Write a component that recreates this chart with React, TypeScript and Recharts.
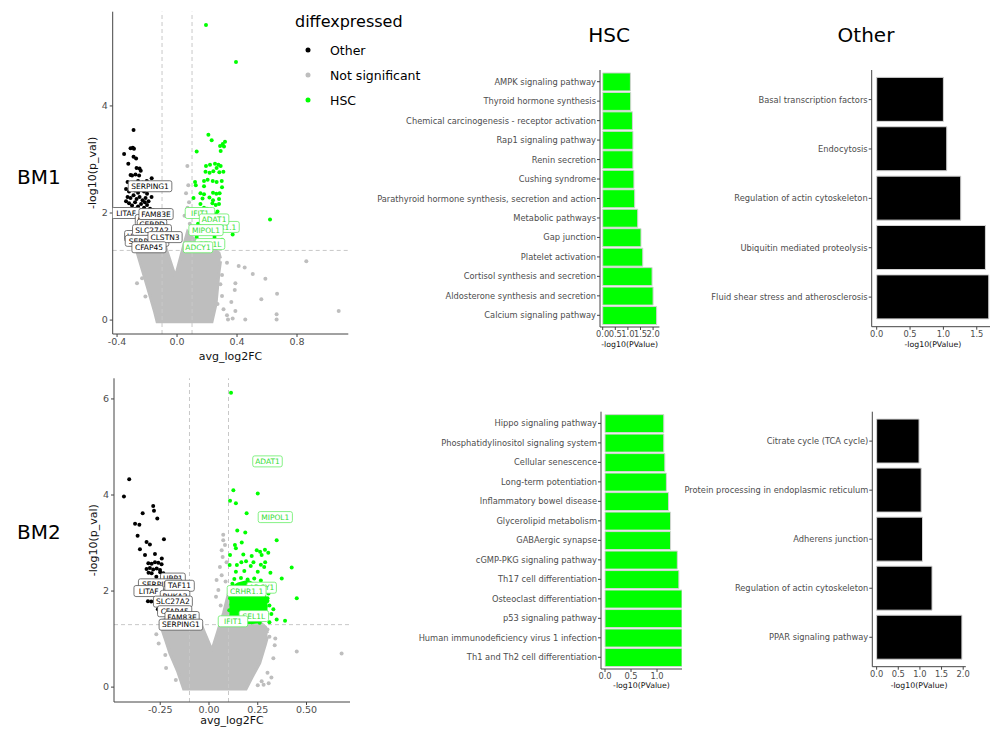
import React from "react";
import {
  ComposedChart, Scatter, Area, XAxis, YAxis, ReferenceLine, BarChart, Bar,
} from "recharts";

const FONT = "DejaVu Sans, Verdana, sans-serif";
const GREEN = "#00ff00";
const GREY = "#bebebe";
const TICK = "#4d4d4d";
const AXIS = "#444444";

type Pt = [number, number];
type Lab = [string, number, number];

// ---- BM1 volcano ----
const bm1CloudX = [-0.275, -0.25, -0.2, -0.15, -0.133, -0.08, -0.011, 0.045, 0.07, 0.1, 0.15, 0.2, 0.233, 0.26, 0.28, 0.29];
const bm1CloudLo = [1.35, 1.11, 0.64, 0.16, -0.03, -0.03, -0.03, -0.03, -0.03, -0.03, -0.03, -0.03, -0.03, 0.3, 0.9, 1.1];
const bm1CloudHi = [1.42, 1.45, 1.45, 1.45, 1.45, 1.4, 0.81, 1.4, 1.65, 1.55, 1.4, 1.38, 1.35, 1.3, 1.25, 1.15];

const bm1Grey: Pt[] = [
  [0.333, 1.07], [0.411, 1.01], [0.451, 0.98], [0.505, 0.86], [0.589, 0.77], [0.862, 1.1], [0.667, 0.49],
  [0.562, 0.39], [0.389, 0.69], [0.385, 0.56], [0.3, 0.84], [0.289, 0.67], [0.362, 0.34], [0.389, 0.17],
  [0.333, 0.09], [0.371, 0.03], [0.34, 0.01], [0.455, 0.01], [0.664, 0.11], [0.664, 0.01], [1.078, 0.17],
  [-0.267, 0.69], [-0.211, 0.44], [-0.233, 0.78], [0.069, 2.88], [0.075, 2.52], [0.06, 2.37], [0.08, 2.2],
  [0.07, 2.1], [0.05, 1.95], [0.085, 1.8], [0.27, 0.3], [0.3, 0.45], [0.31, 0.2],
];

const bm1Other: Pt[] = [
  [-0.29, 3.55], [-0.31, 3.21], [-0.295, 3.22], [-0.287, 3.2], [-0.353, 3.1], [-0.29, 3.05], [-0.273, 3.02],
  [-0.325, 2.92], [-0.27, 2.84], [-0.25, 2.83], [-0.242, 2.79], [-0.31, 2.71], [-0.3, 2.7], [-0.277, 2.72],
  [-0.253, 2.7], [-0.169, 2.65], [-0.33, 2.58], [-0.26, 2.6], [-0.23, 2.57], [-0.202, 2.6],
  [-0.34, 2.45], [-0.32, 2.4], [-0.3, 2.46], [-0.28, 2.42], [-0.26, 2.38], [-0.24, 2.44], [-0.22, 2.4],
  [-0.2, 2.36], [-0.33, 2.3], [-0.31, 2.28], [-0.29, 2.33], [-0.27, 2.26], [-0.25, 2.3], [-0.23, 2.24],
  [-0.21, 2.28], [-0.19, 2.22], [-0.32, 2.18], [-0.3, 2.14], [-0.28, 2.2], [-0.26, 2.12], [-0.24, 2.17],
  [-0.22, 2.1], [-0.2, 2.15], [-0.18, 2.08], [-0.34, 2.22], [-0.235, 2.05], [-0.215, 2.2], [-0.275, 2.08],
  [-0.295, 2.02], [-0.255, 2.0], [-0.17, 2.3], [-0.16, 2.05],
];

const bm1Hsc: Pt[] = [
  [0.193, 5.51], [0.393, 4.82], [0.209, 3.46], [0.231, 3.36], [0.32, 3.33], [0.305, 3.29], [0.287, 3.25],
  [0.313, 3.24], [0.291, 3.16], [0.131, 3.15], [0.22, 2.9], [0.193, 2.88], [0.253, 2.92], [0.276, 2.9],
  [0.264, 2.84], [0.291, 2.88], [0.19, 2.77], [0.217, 2.75], [0.242, 2.78], [0.282, 2.76], [0.309, 2.77],
  [0.18, 2.6], [0.204, 2.62], [0.238, 2.6], [0.264, 2.58], [0.298, 2.6], [0.12, 2.58], [0.125, 2.52],
  [0.18, 2.5], [0.3, 2.48], [0.156, 2.37], [0.18, 2.35], [0.24, 2.38], [0.262, 2.36], [0.284, 2.37],
  [0.11, 2.28], [0.17, 2.27], [0.216, 2.29], [0.24, 2.24], [0.28, 2.26], [0.156, 2.17], [0.236, 2.18],
  [0.258, 2.15], [0.28, 2.17], [0.18, 2.1], [0.2, 2.08], [0.27, 2.03], [0.26, 1.98], [0.62, 1.88],
  [0.371, 1.6], [0.131, 1.55], [0.3, 1.5], [0.14, 1.8], [0.13, 1.7], [0.16, 1.62], [0.25, 1.55], [0.29, 1.45],
];

const bm1OtherLabels: Lab[] = [
  ["LITAF", -0.34, 2.0], ["PHKA2", -0.18, 1.87], ["CEBPD", -0.167, 1.78], ["FAM83E", -0.14, 1.98],
  ["SERPING1", -0.18, 2.5], ["UBP1", -0.267, 1.57], ["SLC27A2", -0.167, 1.68], ["SERPINE2", -0.2, 1.48],
  ["CLSTN3", -0.08, 1.55], ["CFAP45", -0.187, 1.36],
];
const bm1HscLabels: Lab[] = [
  ["CRHR1.1", 0.285, 1.74], ["SEL1L", 0.22, 1.42], ["IFIT1", 0.153, 2.0], ["ADAT1", 0.247, 1.88],
  ["MIPOL1", 0.193, 1.68], ["ADCY1", 0.14, 1.36],
];

// ---- BM2 volcano ----
const bm2CloudX = [-0.245, -0.22, -0.2, -0.16, -0.13, -0.045, 0.015, 0.075, 0.1, 0.115, 0.19, 0.22, 0.26, 0.29, 0.3];
const bm2CloudLo = [1.25, 0.95, 0.7, 0.32, -0.04, -0.04, -0.04, -0.04, -0.04, -0.04, -0.04, 0.2, 0.5, 0.9, 1.05];
const bm2CloudHi = [1.38, 1.42, 1.42, 1.42, 1.42, 1.35, 0.77, 1.55, 1.95, 1.45, 1.35, 1.35, 1.35, 1.25, 1.12];

const bm2CoreX = [0.105, 0.12, 0.15, 0.2, 0.25, 0.28, 0.3];
const bm2CoreLo = [1.38, 1.33, 1.34, 1.33, 1.36, 1.45, 1.55];
const bm2CoreHi = [1.92, 2.08, 2.15, 2.2, 2.1, 1.95, 1.75];

const bm2Grey: Pt[] = [
  [0.45, 0.74], [0.68, 0.7], [0.3, 0.3], [0.27, 0.12], [0.25, 0.04], [0.28, 0.05], [0.33, 0.6], [0.34, 1.01],
  [0.337, 0.87], [0.31, 1.05], [0.32, 0.2], [0.306, 0.08], [0.073, 3.17], [0.073, 3.06], [0.082, 2.96],
  [0.065, 2.85], [0.07, 2.71], [0.056, 2.5], [0.065, 2.33], [0.039, 2.23], [0.048, 2.02], [0.036, 1.88],
  [0.09, 2.6], [0.085, 2.2], [0.06, 1.7], [-0.258, 0.91], [-0.224, 0.67], [-0.22, 0.4], [-0.17, 0.15],
  [-0.27, 1.1], [0.3, 1.2],
];

const bm2Other: Pt[] = [
  [-0.409, 4.33], [-0.436, 3.97], [-0.286, 3.77], [-0.282, 3.67], [-0.34, 3.62], [-0.265, 3.51], [-0.379, 3.4],
  [-0.357, 3.38], [-0.366, 3.15], [-0.231, 3.08], [-0.32, 3.02], [-0.303, 2.97], [-0.354, 2.87], [-0.328, 2.75],
  [-0.277, 2.77], [-0.242, 2.68], [-0.311, 2.58], [-0.294, 2.57], [-0.277, 2.6], [-0.26, 2.59], [-0.243, 2.56],
  [-0.32, 2.46], [-0.303, 2.48], [-0.286, 2.45], [-0.268, 2.47], [-0.251, 2.44], [-0.31, 2.38], [-0.294, 2.37],
  [-0.25, 2.39], [-0.234, 2.37], [-0.313, 1.79], [-0.296, 1.78], [-0.262, 1.62], [-0.255, 1.65],
  [-0.27, 2.3], [-0.24, 2.25], [-0.22, 2.2], [-0.2, 2.0],
];

const bm2Hsc: Pt[] = [
  [0.113, 6.13], [0.125, 4.1], [0.25, 4.03], [0.108, 3.88], [0.138, 3.83], [0.193, 3.62], [0.347, 3.06],
  [0.145, 3.26], [0.186, 3.22], [0.168, 3.01], [0.133, 2.96], [0.138, 2.89], [0.245, 2.85], [0.262, 2.82],
  [0.287, 2.86], [0.304, 2.8], [0.108, 2.75], [0.176, 2.76], [0.219, 2.73], [0.27, 2.75], [0.166, 2.6],
  [0.19, 2.62], [0.228, 2.6], [0.288, 2.6], [0.106, 2.54], [0.143, 2.54], [0.214, 2.52], [0.266, 2.55],
  [0.283, 2.5], [0.424, 2.49], [0.138, 2.4], [0.181, 2.42], [0.25, 2.4], [0.315, 2.38], [0.373, 2.26],
  [0.13, 2.25], [0.164, 2.27], [0.198, 2.24], [0.232, 2.26], [0.266, 2.22], [0.45, 1.85], [0.3, 1.85],
  [0.31, 1.35], [0.347, 1.41], [0.39, 1.38], [0.33, 1.62], [0.12, 2.15], [0.15, 2.12], [0.18, 2.14],
  [0.21, 2.1], [0.24, 2.13], [0.27, 2.1], [0.29, 2.05], [0.115, 2.0], [0.14, 1.98], [0.17, 2.02],
  [0.2, 1.97], [0.23, 2.0], [0.26, 1.96], [0.28, 1.92], [0.3, 1.8], [0.29, 1.68], [0.29, 1.5],
  [0.115, 1.48], [0.12, 1.38], [0.115, 1.72], [0.104, 1.6], [0.108, 1.85], [0.31, 1.7], [0.305, 1.95],
  [0.32, 1.52], [0.26, 1.34], [0.18, 1.33],
];

const bm2OtherLabels: Lab[] = [
  ["UBP1", -0.185, 2.26], ["SERPINE2", -0.25, 2.14], ["TAF11", -0.151, 2.11], ["LITAF", -0.309, 2.0],
  ["PHKA2", -0.174, 1.9], ["SLC27A2", -0.185, 1.78], ["CFAP45", -0.176, 1.58], ["FAM83E", -0.138, 1.46],
  ["SERPING1", -0.144, 1.3],
];
const bm2HscLabels: Lab[] = [
  ["ADAT1", 0.3, 4.7], ["MIPOL1", 0.34, 3.54], ["ADCY1", 0.27, 2.07], ["CRHR1.1", 0.193, 2.0],
  ["SEL1L", 0.23, 1.48], ["IFIT1", 0.123, 1.37],
];

// ---- pathway enrichment ----
const hscBm1Names = [
  "AMPK signaling pathway", "Thyroid hormone synthesis", "Chemical carcinogenesis - receptor activation",
  "Rap1 signaling pathway", "Renin secretion", "Cushing syndrome",
  "Parathyroid hormone synthesis, secretion and action", "Metabolic pathways", "Gap junction",
  "Platelet activation", "Cortisol synthesis and secretion", "Aldosterone synthesis and secretion",
  "Calcium signaling pathway",
];
const hscBm1Values = [1.1, 1.11, 1.18, 1.2, 1.2, 1.24, 1.27, 1.39, 1.52, 1.59, 1.96, 2.0, 2.14];

const hscBm2Names = [
  "Hippo signaling pathway", "Phosphatidylinositol signaling system", "Cellular senescence",
  "Long-term potentiation", "Inflammatory bowel disease", "Glycerolipid metabolism", "GABAergic synapse",
  "cGMP-PKG signaling pathway", "Th17 cell differentiation", "Osteoclast differentiation",
  "p53 signaling pathway", "Human immunodeficiency virus 1 infection", "Th1 and Th2 cell differentiation",
];
const hscBm2Values = [1.13, 1.13, 1.15, 1.18, 1.22, 1.26, 1.26, 1.39, 1.42, 1.48, 1.48, 1.48, 1.48];

const otherBm1Names = [
  "Basal transcription factors", "Endocytosis", "Regulation of actin cytoskeleton",
  "Ubiquitin mediated proteolysis", "Fluid shear stress and atherosclerosis",
];
const otherBm1Values = [1.0, 1.05, 1.26, 1.63, 1.68];

const otherBm2Names = [
  "Citrate cycle (TCA cycle)", "Protein processing in endoplasmic reticulum", "Adherens junction",
  "Regulation of actin cytoskeleton", "PPAR signaling pathway",
];
const otherBm2Values = [0.98, 1.03, 1.06, 1.28, 1.97];

const legendItems: [string, string][] = [["Other", "#000000"], ["Not significant", GREY], ["HSC", GREEN]];

const xy = (pts: Pt[]) => pts.map(([x, y]) => ({ x, y }));
const labs = (l: Lab[]) => l.map(([name, x, y]) => ({ name, x, y }));

function areaRows(cx: number[], lo: number[], hi: number[], kx?: number[], klo?: number[], khi?: number[]) {
  const rows: any[] = cx.map((x, i) => ({ x, cloud: [lo[i], hi[i]] }));
  if (kx && klo && khi) kx.forEach((x, i) => rows.push({ x, core: [klo[i], khi[i]] }));
  return rows.sort((a, b) => a.x - b.x);
}

const dot = (color: string) => (p: any) => <circle cx={p.cx} cy={p.cy} r={2} fill={color} />;

const labelBox = (border: string, color: string) => (p: any) => {
  const name = p.payload.name as string;
  const w = name.length * 4.7 + 6;
  return (
    <g>
      <rect x={p.cx - w / 2} y={p.cy - 5.5} width={w} height={11} rx={2} fill="#fff" stroke={border} strokeWidth={0.8} />
      <text x={p.cx} y={p.cy + 2.7} textAnchor="middle" fontSize={7.5} fontFamily={FONT} fill={color}>{name}</text>
    </g>
  );
};

const axisTick = { fontSize: 9.5, fill: TICK, fontFamily: FONT };

function Volcano(props: any) {
  const { width, height, margin, xDomain, yDomain, xTicks, yTicks, digits, rows, grey, other, hsc,
    otherLabels, hscLabels, xAxisHeight, titleOffset } = props;
  return (
    <ComposedChart width={width} height={height} data={rows} margin={margin}>
      <XAxis type="number" dataKey="x" domain={xDomain} ticks={xTicks} allowDataOverflow height={xAxisHeight}
        tickFormatter={(v: number) => v.toFixed(digits)} tick={axisTick} tickSize={3} tickMargin={1}
        stroke={AXIS} interval={0}
        label={{ value: "avg_log2FC", position: "insideBottom", offset: titleOffset, fontSize: 11, fill: "#111", fontFamily: FONT }} />
      <YAxis type="number" dataKey="y" domain={yDomain} ticks={yTicks} allowDataOverflow width={26}
        tick={axisTick} tickSize={3} tickMargin={2} stroke={AXIS} interval={0}
        label={{ value: "-log10(p_val)", angle: -90, position: "insideLeft", offset: 5, fontSize: 11, fill: "#111", fontFamily: FONT, style: { textAnchor: "middle" } }} />
      <ReferenceLine x={-0.1} stroke="#c8c8c8" strokeDasharray="4 3" />
      <ReferenceLine x={0.1} stroke="#c8c8c8" strokeDasharray="4 3" />
      <ReferenceLine y={1.301} stroke="#c8c8c8" strokeDasharray="4 3" />
      <Area dataKey="cloud" type="linear" fill={GREY} fillOpacity={1} stroke={GREY} strokeWidth={3} connectNulls isAnimationActive={false} />
      <Scatter data={xy(grey)} fill={GREY} shape={dot(GREY)} isAnimationActive={false} />
      <Scatter data={xy(other)} fill="#000" shape={dot("#000")} isAnimationActive={false} />
      <Area dataKey="core" type="linear" fill={GREEN} fillOpacity={1} stroke={GREEN} strokeWidth={3} connectNulls isAnimationActive={false} />
      <Scatter data={xy(hsc)} fill={GREEN} shape={dot(GREEN)} isAnimationActive={false} />
      <Scatter data={labs(otherLabels)} shape={labelBox("#555", "#000")} isAnimationActive={false} />
      <Scatter data={labs(hscLabels)} shape={labelBox("#66ee66", "#33dd33")} isAnimationActive={false} />
    </ComposedChart>
  );
}

const CatTick = (p: any) => (
  <text x={p.x} y={p.y} dy={3} textAnchor="end" fontSize={8.3} fill={TICK} fontFamily={FONT}>{p.payload.value}</text>
);

function Pathways(props: any) {
  const { names, values, color, width, height, margin, yWidth, domain, ticks, xAxisHeight, titleOffset, pad } = props;
  const data = names.map((name: string, i: number) => ({ name, value: values[i] }));
  return (
    <BarChart layout="vertical" width={width} height={height} data={data} margin={margin} barCategoryGap="5%">
      <XAxis type="number" domain={domain} ticks={ticks} interval={0} allowDataOverflow height={xAxisHeight}
        tickFormatter={(v: number) => v.toFixed(1)} tick={{ fontSize: 8.3, fill: TICK, fontFamily: FONT }}
        tickSize={3} tickMargin={1} stroke={AXIS}
        label={{ value: "-log10(PValue)", position: "insideBottom", offset: titleOffset, fontSize: 7.8, fill: "#111", fontFamily: FONT }} />
      <YAxis type="category" dataKey="name" width={yWidth} interval={0} padding={{ top: pad, bottom: pad }}
        tick={<CatTick />} tickSize={3} tickMargin={1} stroke={AXIS} />
      <Bar dataKey="value" fill={color} stroke="#d4d4d4" strokeWidth={1} isAnimationActive={false} />
    </BarChart>
  );
}

const abs = (left: number, top: number): React.CSSProperties => ({ position: "absolute", left, top });

export default function App() {
  return (
    <div style={{ position: "absolute", left: 0, top: 0, width: 990, height: 729, overflow: "hidden", background: "#fff", fontFamily: FONT }}>
      <svg width={990} height={729} style={abs(0, 0)}>
        <text x={17} y={184} fontSize={20} fontFamily={FONT} fill="#000">BM1</text>
        <text x={17} y={539} fontSize={20} fontFamily={FONT} fill="#000">BM2</text>
        <text x={609} y={42} fontSize={20} fontFamily={FONT} fill="#000" textAnchor="middle">HSC</text>
        <text x={866} y={42} fontSize={20} fontFamily={FONT} fill="#000" textAnchor="middle">Other</text>
        <text x={295} y={27} fontSize={16} fontFamily={FONT} fill="#000">diffexpressed</text>
        {legendItems.map(([name, c], i) => (
          <g key={name}>
            <circle cx={308} cy={50 + i * 25} r={2.5} fill={c} />
            <text x={330} y={54.5 + i * 25} fontSize={12.5} fontFamily={FONT} fill="#000">{name}</text>
          </g>
        ))}
      </svg>

      <div style={abs(0, 0)}>
        <Volcano width={360} height={364} margin={{ top: 11.7, right: 11.7, left: 86.7, bottom: 0 }}
          xDomain={[-0.429, 1.142]} yDomain={[-0.26, 5.76]} xTicks={[-0.4, 0, 0.4, 0.8]} yTicks={[0, 2, 4]} digits={1}
          rows={areaRows(bm1CloudX, bm1CloudLo, bm1CloudHi)} grey={bm1Grey} other={bm1Other} hsc={bm1Hsc}
          otherLabels={bm1OtherLabels} hscLabels={bm1HscLabels} xAxisHeight={30} titleOffset={4} />
      </div>
      <div style={abs(0, 360)}>
        <Volcano width={360} height={369} margin={{ top: 18.3, right: 10, left: 88, bottom: 0 }}
          xDomain={[-0.487, 0.723]} yDomain={[-0.31, 6.43]} xTicks={[-0.25, 0, 0.25, 0.5]} yTicks={[0, 2, 4, 6]} digits={2}
          rows={areaRows(bm2CloudX, bm2CloudLo, bm2CloudHi, bm2CoreX, bm2CoreLo, bm2CoreHi)} grey={bm2Grey}
          other={bm2Other} hsc={bm2Hsc} otherLabels={bm2OtherLabels} hscLabels={bm2HscLabels}
          xAxisHeight={27} titleOffset={5} />
      </div>

      <div style={abs(360, 40)}>
        <Pathways names={hscBm1Names} values={hscBm1Values} color={GREEN} width={310} height={320}
          margin={{ top: 30, right: 10.6, left: 0, bottom: 0 }} yWidth={240} domain={[-0.107, 2.25]}
          ticks={[0, 0.5, 1, 1.5, 2]} xAxisHeight={33} titleOffset={13} pad={1.95} />
      </div>
      <div style={abs(380, 380)}>
        <Pathways names={hscBm2Names} values={hscBm2Values} color={GREEN} width={310} height={320}
          margin={{ top: 31.7, right: 8, left: 0, bottom: 0 }} yWidth={221} domain={[-0.077, 1.48]}
          ticks={[0, 0.5, 1]} xAxisHeight={31} titleOffset={12} pad={1.95} />
      </div>
      <div style={abs(680, 40)}>
        <Pathways names={otherBm1Names} values={otherBm1Values} color="#000" width={320} height={320}
          margin={{ top: 30, right: 5.9, left: 0, bottom: 0 }} yWidth={191.7} domain={[-0.075, 1.76]}
          ticks={[0, 0.5, 1, 1.5]} xAxisHeight={33.3} titleOffset={13} pad={4.9} />
      </div>
      <div style={abs(680, 380)}>
        <Pathways names={otherBm2Names} values={otherBm2Values} color="#000" width={310} height={320}
          margin={{ top: 31.7, right: 24.2, left: 0, bottom: 0 }} yWidth={192.3} domain={[-0.1, 2.06]}
          ticks={[0, 0.5, 1, 1.5, 2]} xAxisHeight={33.3} titleOffset={12} pad={4.9} />
      </div>
    </div>
  );
}
